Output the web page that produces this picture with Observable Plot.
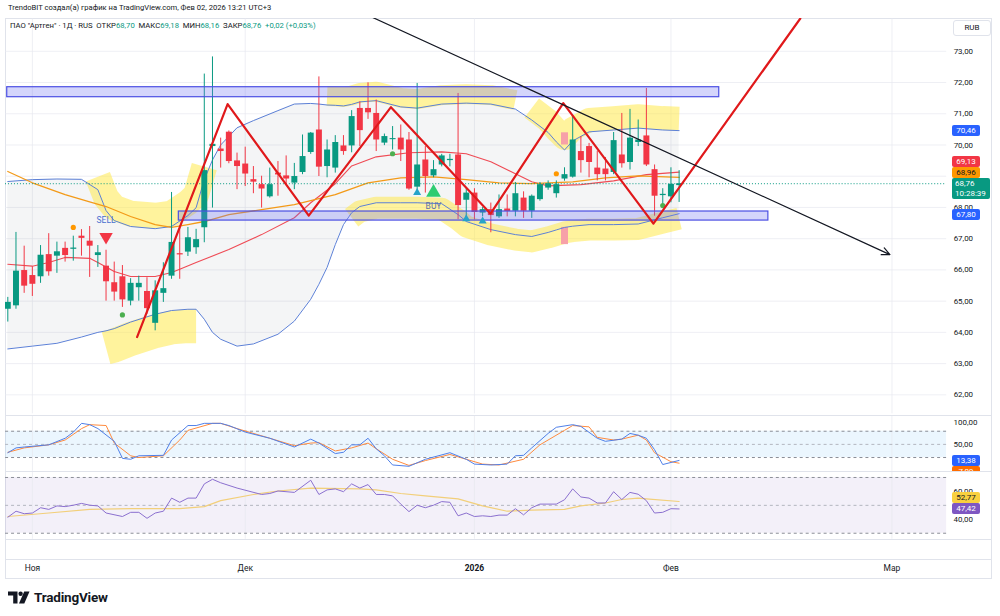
<!DOCTYPE html>
<html lang="ru">
<head>
<meta charset="utf-8">
<script src="https://cdn.jsdelivr.net/npm/d3@7"></script>
<script src="https://cdn.jsdelivr.net/npm/@observablehq/plot@0.6"></script>
<style>
  html,body{margin:0;padding:0;background:#fff;}
  #root{position:relative;width:1000px;height:616px;overflow:hidden;background:#fff;font-family:Roboto,"Open Sans",sans-serif;color:#131722;}
  .abs{position:absolute;white-space:nowrap;}
  .pane{position:absolute;left:5px;width:986px;overflow:hidden;}
  .tag{position:absolute;font-size:8px;line-height:11px;text-align:center;border-radius:2px;white-space:nowrap;}
  .hline{position:absolute;left:5px;width:986px;height:1px;background:#e0e3eb;}
  .g{color:#089981;}
</style>
</head>
<body>
<div id="root"></div>
<script>
// ---------------- data ----------------
const openP  = [64.74,64.85,65.98,65.82,65.78,66.49,66.44,66.69,66.66,67.08,66.92,66.46,66.12,65.59,65.78,65.00,65.43,65.31,64.29,65.25,
                65.80,66.52,66.57,66.71,67.35,69.95,69.87,70.41,69.49,69.39,68.89,68.73,68.34,69.10,69.01,68.78,69.12,69.76,70.48,69.31,
                69.26,69.97,69.97,71.17,71.17,71.01,70.06,70.17,70.22,70.16,68.65,69.52,69.01,69.36,69.50,69.68,68.23,68.46,67.82,67.93,
                67.70,67.95,67.88,68.30,67.88,68.25,68.62,68.44,68.91,68.97,69.79,69.95,69.26,69.23,69.12,69.68,69.44,70.08,70.29,69.21,
                68.38,68.34,68.70];
const highP  = [65.12,67.20,66.76,66.10,66.78,67.16,66.89,66.89,67.08,67.29,67.39,66.78,66.63,66.25,66.14,65.72,65.80,65.75,65.65,66.23,
                68.48,67.40,67.36,67.30,72.27,72.82,70.22,70.45,69.74,69.93,69.31,69.00,69.26,69.47,69.65,69.41,70.32,70.40,72.18,70.16,
                70.30,70.30,71.10,71.38,71.99,71.44,70.35,70.59,70.64,70.40,71.97,69.95,69.50,69.70,69.70,71.65,68.60,68.60,68.00,68.14,
                68.40,68.40,68.80,68.50,68.40,68.80,68.85,68.85,69.27,70.96,70.27,70.05,69.80,69.60,70.40,71.01,71.14,70.80,71.81,69.36,
                68.60,69.27,69.18];
const lowP   = [64.33,64.74,65.25,65.15,65.57,65.80,65.89,66.25,66.28,66.44,65.76,66.08,65.00,65.00,64.80,64.85,65.00,64.58,64.05,64.96,
                65.70,65.70,66.43,66.50,66.87,67.98,69.26,69.40,68.57,68.67,68.44,67.98,68.30,68.36,68.73,68.57,69.05,69.70,68.99,68.95,
                69.10,69.67,69.75,69.95,70.82,69.79,69.98,69.84,69.47,68.55,68.51,68.46,68.95,69.30,69.30,67.61,67.65,67.60,67.70,67.19,
                67.65,67.70,67.70,67.65,67.65,68.20,68.55,68.30,68.84,68.94,69.10,68.95,68.85,68.85,69.05,69.26,69.20,69.95,69.31,67.72,
                68.10,68.15,68.16];
const closeP = [64.96,65.96,65.48,65.54,66.47,65.94,66.58,66.46,66.70,67.01,66.76,66.55,65.62,65.29,65.04,65.57,65.57,64.76,65.33,65.40,
                66.88,66.48,67.03,66.97,69.18,70.02,69.79,69.47,69.31,69.07,68.81,68.59,68.73,69.04,68.91,68.99,69.63,70.38,69.29,69.84,
                70.08,69.79,70.91,70.46,71.03,70.16,70.27,70.19,69.84,68.59,69.36,68.99,69.21,69.65,69.54,68.06,68.46,67.84,67.93,67.74,
                67.93,67.87,68.44,67.88,68.36,68.73,68.76,68.73,69.05,70.16,69.50,69.44,69.05,69.05,70.14,69.40,70.22,70.16,69.36,68.36,
                68.42,68.74,68.76];

// Bollinger bands (read at selected bars)
const bbIdx   = [0,3,6,9,11,12,13,15,18,20,22,23,24,25,26,28,30,33,35,37,38,39,40,41,42,43,45,48,50,53,55,56,59,62,64,66,67,68,69,71,74,77,80,82];
const bbUpper = [68.83,68.89,68.91,68.90,68.57,67.90,67.58,67.39,67.32,67.39,67.74,67.99,68.89,69.52,70.00,70.55,70.78,71.10,71.31,71.33,
                 71.31,71.28,71.27,71.25,71.30,71.38,71.42,71.22,71.18,71.31,71.33,71.34,71.31,71.15,70.80,70.40,70.10,69.84,70.13,70.42,
                 70.48,70.54,70.48,70.46];
const bbLower = [63.47,63.56,63.65,63.85,64.00,64.05,64.12,64.33,64.58,64.70,64.74,64.74,64.42,64.00,63.78,63.56,63.63,63.94,64.36,65.06,
                 65.54,66.08,66.81,67.45,67.83,68.03,68.15,68.15,68.15,68.12,67.77,67.55,67.29,67.13,67.07,67.20,67.28,67.36,67.40,67.45,
                 67.45,67.47,67.67,67.80];
// moving averages
const maRedIdx = [0,3,5,7,10,11,13,15,18,20,21,23,27,31,35,37,40,42,45,49,53,56,59,62,64,66,70,74,78,82];
const maRed    = [66.18,66.12,66.24,66.40,66.37,66.24,65.95,65.79,65.79,65.92,66.02,66.24,66.65,67.13,67.67,68.15,68.76,69.33,69.62,69.75,
                  69.78,69.72,69.46,69.08,68.82,68.69,68.73,68.85,69.05,69.13];
const maOrIdx  = [0,3,7,10,12,15,18,20,22,24,27,31,35,40,44,48,52,56,60,64,69,73,77,82];
const maOr     = [69.15,68.79,68.41,68.18,68.03,67.71,67.45,67.36,67.45,67.55,67.77,67.93,68.09,68.41,68.79,68.95,68.98,68.89,68.79,68.76,
                  68.82,68.95,69.01,68.96];

// Stochastic
const stochKIdx = [0,1,2,5,7,8,9,10,11,13,14,15,16,19,20,22,23,24,26,27,29,32,35,37,38,40,41,42,43,44,45,46,47,49,51,54,56,57,59,61,62,63,64,66,67,69,70,72,73,75,76,77,78,79,80,82];
const stochK    = [31,42,44,49,64,78,98,95,86,57,18,16,24,25,60,93,93,98,98,93,78,64,44,62,53,29,32,49,49,64,40,24,3,0,16,31,16,5,3,5,24,25,42,75,89,95,91,64,57,62,75,71,64,38,4,13.38];
const stochDIdx = [0,2,5,7,9,10,12,13,15,16,19,21,22,25,26,28,32,35,37,38,40,42,44,45,47,49,51,54,56,58,60,63,65,68,69,71,72,74,75,77,78,79,81,82];
const stochD    = [32,42,49,60,86,95,93,53,24,20,24,60,82,98,98,86,64,47,53,54,35,42,53,40,16,2,13,27,16,5,3,16,49,82,93,90,66,60,62,71,60,31,10.5,7.09];

// RSI
const rsiIdx = [0,1,2,3,4,5,6,7,8,9,10,11,12,14,15,16,17,18,19,20,21,22,23,24,25,26,28,31,32,33,35,37,38,39,40,41,42,43,44,45,46,47,48,49,50,51,52,53,54,55,56,57,58,59,60,61,62,63,64,65,67,68,69,70,71,72,73,74,75,76,77,78,79,80,81,82];
const rsiVal = [41.5,45.8,44.0,44.5,48.3,47.1,49.6,49.1,50.1,51.4,50.1,49.6,44.5,42.0,45.0,45.0,40.7,44.5,45.8,55.2,52.2,55.2,55.2,65.4,68.7,66.2,
                62.4,57.8,58.5,60.3,59.3,68.0,57.8,61.1,61.8,59.8,65.4,62.4,64.9,57.8,57.8,56.8,50.9,45.5,50.1,48.3,50.1,52.7,52.2,42.5,44.5,
                42.0,42.5,42.0,43.0,43.0,47.6,43.2,48.3,50.9,50.9,54.0,61.8,56.0,55.2,51.7,51.7,59.8,54.2,59.3,58.0,53.4,44.5,45.0,47.6,47.42];
const rsiMaIdx = [0,5,10,15,21,24,26,30,33,37,43,45,48,51,55,58,61,64,68,70,73,75,77,78,82];
const rsiMa    = [42.0,44.5,47.1,47.6,47.6,49.1,53.4,57.8,60.3,62.4,61.8,61.1,58.5,56.8,54.7,49.6,45.8,46.6,47.1,49.6,51.7,54.2,55.2,54.7,52.77];

// drawings
const zigIdx   = [15.79,26.85,36.76,46.80,58.97,67.85,78.86,96.80];
const zigPrice = [63.85,71.31,67.74,71.21,67.80,71.34,67.48,74.05];
const trendIdx   = [43.76,107.75];
const trendPrice = [74.18,66.49];
const zoneX1 = [-0.07,20.89], zoneX2 = [86.9,92.9];
const zoneLo = [71.53,67.58], zoneHi = [71.85,67.87];
const squeezeIdx = [68,68], squeezeLo = [70.00,66.81], squeezeHi = [70.39,67.36];

// signal markers
const sellIdx = [12], sellPrice = [67.06], sellTextPrice = [67.58];
const buyIdx = [52], buyPrice = [68.48], buyTextPrice = [68.03];
const smallTriIdx = [50,56,58], smallTriPrice = [68.47,67.63,67.56];
const orangeDotIdx = [8,67], orangeDotPrice = [67.36,69.08];
const greenDotIdx = [14,47,80], greenDotPrice = [64.56,69.72,68.06];

// axes
const monthIdx = [3,29,57,81,108];
const monthLabels = ["Ноя","Дек","2026","Фев","Мар"];
const priceTicks = [62,63,64,65,66,67,68,69,70,71,72,73];
const priceLabelTicks = [62,63,64,65,66,67,68,70,71,72,73];
const stochTicks = [100,50];
const rsiTicks = [60,40];

// last values
const lastPrice = 68.76, bbUpLast = 70.46, maRedLast = 69.13, maOrLast = 68.96, bbLoLast = 67.80;
const stochKLast = 13.38, stochDLast = 7.09, rsiLast = 47.42, rsiMaLast = 52.77;

// ---------------- build ----------------
const root = document.getElementById("root");
const G = "#089981", R = "#f23645";
const fmt = v => v.toFixed(2).replace(".", ",");
const xDomain = [-0.28, 114.68];

const candles = openP.map((o, i) => ({i, o, h: highP[i], l: lowP[i], c: closeP[i], up: closeP[i] >= o}));
const bb = bbIdx.map((i, k) => ({i, up: bbUpper[k], lo: bbLower[k]}));
const redMA = maRedIdx.map((i, k) => ({i, v: maRed[k]}));
const orMA = maOrIdx.map((i, k) => ({i, v: maOr[k]}));
const zig = zigIdx.map((i, k) => ({i, v: zigPrice[k]}));
const zones = zoneX1.map((x1, k) => ({x1, x2: zoneX2[k], lo: zoneLo[k], hi: zoneHi[k]}));
const squeeze = squeezeIdx.map((i, k) => ({i, lo: squeezeLo[k], hi: squeezeHi[k]}));
const pts = (idx, vals) => idx.map((i, k) => ({i, v: vals[k]}));

function el(css, html, parent = root, cls = "abs") {
  const d = document.createElement("div");
  d.className = cls;
  d.style.cssText = css;
  d.innerHTML = html;
  parent.appendChild(d);
  return d;
}

// header
el("left:8px;top:2px;font-size:7.6px;line-height:12px;color:#131722;", "TrendoBIT создал(а) график на TradingView.com, Фев 02, 2026 13:21 UTC+3");
// frame
el("left:5px;top:18px;width:985px;height:559px;border:1px solid #e0e3eb;", "");

const hlSeg = (key, a, b, dy, w) => Plot.line(bb.filter(d => d.i >= a && d.i <= b), {
  x: "i", y: key, dy, stroke: "#ffe83b", strokeOpacity: 0.5, strokeWidth: w, strokeLinejoin: "round", strokeLinecap: "butt"
});

const axisStyle = {background: "transparent", overflow: "visible", fontFamily: "Roboto, sans-serif", fontSize: "8px", color: "#131722"};

// main price pane
const main = Plot.plot({
  width: 990, height: 397,
  marginLeft: 0, marginRight: 45, marginTop: 0, marginBottom: 0,
  style: axisStyle,
  x: {domain: xDomain, axis: null},
  y: {domain: [61.39, 74.05]},
  marks: [
    Plot.gridY(priceTicks, {stroke: "#e6e8ef", strokeOpacity: 0.7}),
    Plot.gridX(monthIdx, {stroke: "#e6e8ef", strokeOpacity: 0.7}),
    Plot.areaY(bb, {x: "i", y1: "lo", y2: "up", fill: "#787b86", fillOpacity: 0.08}),
    hlSeg("up", 11, 24, -13, 26),
    hlSeg("lo", 12, 23, 17, 34),
    hlSeg("up", 39, 62, -9, 20),
    hlSeg("lo", 42, 82, 5, 22),
    hlSeg("up", 64, 82, -12, 24),
    Plot.ruleX(squeeze, {x: "i", y1: "lo", y2: "hi", stroke: "#f7a1a8", strokeWidth: 7}),
    Plot.line(bb, {x: "i", y: "up", stroke: "#5b7fd6", strokeWidth: 1}),
    Plot.line(bb, {x: "i", y: "lo", stroke: "#5b7fd6", strokeWidth: 1}),
    Plot.line(redMA, {x: "i", y: "v", stroke: "#ef4b55", strokeWidth: 1.1}),
    Plot.line(orMA, {x: "i", y: "v", stroke: "#f39a18", strokeWidth: 1.3}),
    Plot.ruleY([lastPrice], {stroke: G, strokeDasharray: "1,2", strokeWidth: 1}),
    Plot.ruleX(candles, {x: "i", y1: "l", y2: "h", stroke: d => d.up ? G : R, strokeWidth: 1}),
    Plot.ruleX(candles, {x: "i", y1: d => Math.min(d.o, d.c), y2: d => Math.max(d.o, d.c, Math.min(d.o, d.c) + 0.035),
      stroke: d => d.up ? G : R, strokeWidth: 6}),
    Plot.rect(zones, {x1: "x1", x2: "x2", y1: "lo", y2: "hi", fill: "#6f73f2", fillOpacity: 0.3, stroke: "#4b4fe3", strokeWidth: 1.2}),
    Plot.dot(pts(orangeDotIdx, orangeDotPrice), {x: "i", y: "v", r: 2.6, fill: "#ff9800"}),
    Plot.dot(pts(greenDotIdx, greenDotPrice), {x: "i", y: "v", r: 2.6, fill: "#4caf50"}),
    Plot.dot(pts(sellIdx, sellPrice), {x: "i", y: "v", symbol: "triangle", rotate: 180, r: 5, fill: "#f23645"}),
    Plot.text(pts(sellIdx, sellTextPrice), {x: "i", y: "v", text: () => "SELL", fill: "#4a6fd0", fontSize: 8.5}),
    Plot.dot(pts(buyIdx, buyPrice), {x: "i", y: "v", symbol: "triangle", r: 5.5, fill: "#2ecc71"}),
    Plot.text(pts(buyIdx, buyTextPrice), {x: "i", y: "v", text: () => "BUY", fill: "#5b6ea8", fontSize: 8.5}),
    Plot.dot(pts(smallTriIdx, smallTriPrice), {x: "i", y: "v", symbol: "triangle", r: 3, fill: "#26a3c9"}),
    Plot.line(zig, {x: "i", y: "v", stroke: "#e0191b", strokeWidth: 2.2, clip: true}),
    Plot.arrow([0], {x1: trendIdx[0], y1: trendPrice[0], x2: trendIdx[1], y2: trendPrice[1],
      stroke: "#131722", strokeWidth: 1.2, headLength: 11, headAngle: 50, clip: true}),
    Plot.axisY(priceLabelTicks, {anchor: "right", label: null, tickSize: 0, tickPadding: 7, tickFormat: fmt, fontSize: 8, fill: "#131722"})
  ]
});
const mainPane = el("top:18px;height:397px;", "", root, "pane");
mainPane.appendChild(main);

// stochastic pane
const stoch = Plot.plot({
  width: 990, height: 55,
  marginLeft: 0, marginRight: 45, marginTop: 0, marginBottom: 0,
  style: axisStyle,
  x: {domain: xDomain, axis: null},
  y: {domain: [-11.36, 113.64]},
  marks: [
    Plot.rect([0], {x1: xDomain[0], x2: xDomain[1], y1: 20, y2: 80, fill: "#2196f3", fillOpacity: 0.09}),
    Plot.gridX(monthIdx, {stroke: "#e6e8ef", strokeOpacity: 0.7}),
    Plot.ruleY([80, 20], {stroke: "#8a8d96", strokeDasharray: "3,3"}),
    Plot.ruleY([50], {stroke: "#b2b5be", strokeDasharray: "3,3"}),
    Plot.line(pts(stochDIdx, stochD), {x: "i", y: "v", stroke: "#ff8a3d", strokeWidth: 1}),
    Plot.line(pts(stochKIdx, stochK), {x: "i", y: "v", stroke: "#4f7fe8", strokeWidth: 1}),
    Plot.axisY(stochTicks, {anchor: "right", label: null, tickSize: 0, tickPadding: 7, tickFormat: fmt, fontSize: 8, fill: "#131722"})
  ]
});
const stochPane = el("top:416px;height:55px;", "", root, "pane");
stochPane.appendChild(stoch);

// RSI pane
const rsi = Plot.plot({
  width: 990, height: 67,
  marginLeft: 0, marginRight: 45, marginTop: 0, marginBottom: 0,
  style: axisStyle,
  x: {domain: xDomain, axis: null},
  y: {domain: [25.71, 73.57]},
  marks: [
    Plot.rect([0], {x1: xDomain[0], x2: xDomain[1], y1: 30, y2: 70, fill: "#7e57c2", fillOpacity: 0.09}),
    Plot.gridX(monthIdx, {stroke: "#e6e8ef", strokeOpacity: 0.7}),
    Plot.ruleY([70, 30], {stroke: "#8a8d96", strokeDasharray: "3,3"}),
    Plot.ruleY([50], {stroke: "#b2b5be", strokeDasharray: "3,3"}),
    Plot.line(pts(rsiMaIdx, rsiMa), {x: "i", y: "v", stroke: "#f2cf7a", strokeWidth: 1.2}),
    Plot.line(pts(rsiIdx, rsiVal), {x: "i", y: "v", stroke: "#8a6fcf", strokeWidth: 1}),
    Plot.axisY(rsiTicks, {anchor: "right", label: null, tickSize: 0, tickPadding: 7, tickFormat: fmt, fontSize: 8, fill: "#131722"})
  ]
});
const rsiPane = el("top:472px;height:67px;", "", root, "pane");
rsiPane.appendChild(rsi);

// time axis
const isYear = s => /^\d+$/.test(s);
const timeAx = Plot.plot({
  width: 990, height: 18,
  marginLeft: 0, marginRight: 45, marginTop: 0, marginBottom: 0,
  style: axisStyle,
  x: {domain: xDomain, axis: null},
  marks: [
    Plot.text(monthIdx.filter((d, k) => !isYear(monthLabels[k])), {x: d => d, text: d => monthLabels[monthIdx.indexOf(d)], frameAnchor: "middle", fontSize: 8.5, fill: "#131722"}),
    Plot.text(monthIdx.filter((d, k) => isYear(monthLabels[k])), {x: d => d, text: d => monthLabels[monthIdx.indexOf(d)], frameAnchor: "middle", fontSize: 8.5, fontWeight: 700, fill: "#131722"})
  ]
});
const timePane = el("top:559px;height:18px;", "", root, "pane");
timePane.appendChild(timeAx);

// separators
[415, 471, 539, 559].forEach(t => el(`top:${t}px;`, "", root, "hline"));

// legend
el("left:10px;top:20px;font-size:7.7px;line-height:12px;color:#131722;",
  'ПАО "Артген" · 1Д · RUS&nbsp;&nbsp;ОТКР<span class="g">' + fmt(openP[82]) + '</span>&nbsp;&nbsp;МАКС<span class="g">' + fmt(highP[82]) +
  '</span>&nbsp;&nbsp;МИН<span class="g">' + fmt(lowP[82]) + '</span>&nbsp;&nbsp;ЗАКР<span class="g">' + fmt(closeP[82]) +
  '</span>&nbsp;&nbsp;<span class="g">+0,02 (+0,03%)</span>');

// RUB box
el("left:953px;top:20px;width:36px;height:14px;border:1px solid #e0e3eb;border-radius:3px;background:#fff;font-size:8px;line-height:14px;text-align:center;", "RUB");

// price tags (positions from the plot scales)
function tag(parent, left, center, h, w, bg, fg, html) {
  el(`left:${left}px;top:${center - h / 2}px;width:${w}px;height:${h}px;background:${bg};color:${fg};`, html, parent, "tag");
}
const yM = v => main.scale("y").apply(v);
const greenTop = yM(lastPrice) - 5.5;
const orC = Math.min(yM(maOrLast), greenTop - 6);
const redC = Math.min(yM(maRedLast), orC - 11);
tag(mainPane, 947, yM(bbUpLast), 11, 28, "#2962ff", "#fff", fmt(bbUpLast));
tag(mainPane, 947, redC, 11, 28, "#f23645", "#fff", fmt(maRedLast));
tag(mainPane, 947, orC, 11, 28, "#ff9800", "#131722", fmt(maOrLast));
el(`left:947px;top:${greenTop}px;width:38px;height:21px;background:${G};color:#fff;text-align:left;padding-left:3px;box-sizing:border-box;line-height:10px;padding-top:1px;`,
   fmt(lastPrice) + "<br>10:28:39", mainPane, "tag");
tag(mainPane, 947, yM(bbLoLast) + 1, 11, 28, "#2962ff", "#fff", fmt(bbLoLast));

const yS = v => stoch.scale("y").apply(v);
const kC = yS(stochKLast);
tag(stochPane, 947, kC, 11, 28, "#2962ff", "#fff", fmt(stochKLast));
tag(stochPane, 947, Math.max(yS(stochDLast), kC + 11), 11, 28, "#ff6d00", "#fff", fmt(stochDLast));

const yR = v => rsi.scale("y").apply(v);
const rC = yR(rsiLast);
tag(rsiPane, 947, Math.min(yR(rsiMaLast), rC - 11), 11, 28, "#f9d03f", "#131722", fmt(rsiMaLast));
tag(rsiPane, 947, rC, 11, 28, "#7e57c2", "#fff", fmt(rsiLast));

// TradingView logo
el("left:8px;top:589px;height:16px;display:flex;align-items:center;gap:4px;font-size:13.5px;font-weight:700;letter-spacing:-0.2px;color:#131722;",
  '<svg width="22" height="13" viewBox="0 0 22 13"><path d="M0 0.5h9.5v12H5.2V4.6H0z" fill="#131722"/><circle cx="12.6" cy="2.7" r="2.2" fill="#131722"/><path d="M16.2 0.5h5.3L16.3 12.5H11z" fill="#131722"/></svg><span>TradingView</span>');
</script>
</body>
</html>
